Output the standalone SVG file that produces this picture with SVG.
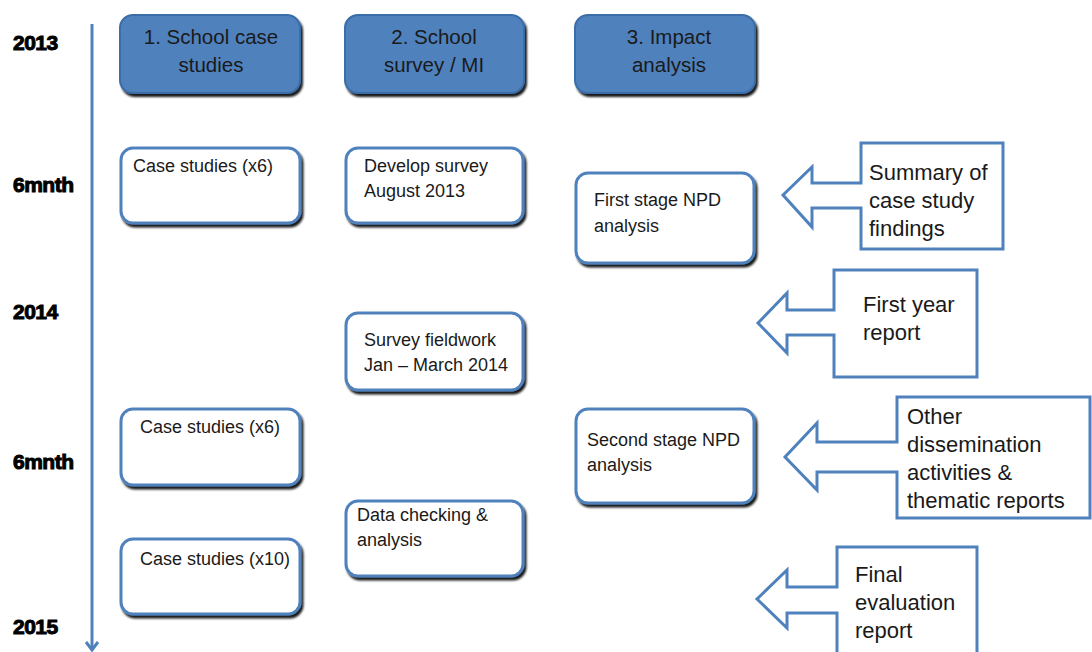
<svg xmlns="http://www.w3.org/2000/svg" width="1092" height="652" viewBox="0 0 1092 652">
<style>
  .hdr{fill:#4F81BD;stroke:#3B6DA8;stroke-width:2}
  .box{fill:#FFFFFF;stroke:#4F81BD;stroke-width:3}
  .call{fill:#FFFFFF;stroke:#4F81BD;stroke-width:3;stroke-linejoin:miter}
  .ht{font-family:"Liberation Sans",Arial,sans-serif;font-size:20.5px;fill:#1a1a1a;text-anchor:middle}
  .bt{font-family:"Liberation Sans",Arial,sans-serif;font-size:18px;fill:#1a1a1a}
  .ct{font-family:"Liberation Sans",Arial,sans-serif;font-size:22px;fill:#1a1a1a}
  .yr{font-family:"Liberation Sans",Arial,sans-serif;font-size:21px;font-weight:bold;fill:#000;stroke:#000;stroke-width:1;letter-spacing:-0.5px}
</style>
<defs>
  <filter id="sh" x="-10%" y="-10%" width="130%" height="130%">
    <feDropShadow dx="2" dy="3" stdDeviation="1.2" flood-color="#000" flood-opacity="0.9"/>
  </filter>
</defs>

<g id="timeline">
  <line x1="92" y1="24" x2="92" y2="650" stroke="#4F81BD" stroke-width="3"/>
  <path d="M86,642 L92,650 L98,642" fill="none" stroke="#4F81BD" stroke-width="3"/>
  <text class="yr" x="13" y="50">2013</text>
  <text class="yr" x="13" y="192">6mnth</text>
  <text class="yr" x="13" y="319">2014</text>
  <text class="yr" x="13" y="469">6mnth</text>
  <text class="yr" x="13" y="634">2015</text>
</g>

<g id="h1">
  <rect class="hdr" x="120" y="15" width="180" height="78" rx="13" filter="url(#sh)"/>
  <text class="ht" x="211" y="44">1. School case</text>
  <text class="ht" x="211" y="72">studies</text>
</g>
<g id="h2">
  <rect class="hdr" x="345" y="15" width="179" height="78" rx="13" filter="url(#sh)"/>
  <text class="ht" x="434" y="44">2. School</text>
  <text class="ht" x="434" y="72">survey / MI</text>
</g>
<g id="h3">
  <rect class="hdr" x="575" y="15" width="180" height="78" rx="13" filter="url(#sh)"/>
  <text class="ht" x="669" y="44">3. Impact</text>
  <text class="ht" x="669" y="72">analysis</text>
</g>

<g id="cs1">
  <rect class="box" x="121" y="148" width="179" height="75" rx="12" filter="url(#sh)"/>
  <text class="bt" x="133" y="172">Case studies (x6)</text>
</g>
<g id="dev">
  <rect class="box" x="346" y="148" width="177" height="75" rx="12" filter="url(#sh)"/>
  <text class="bt" x="364" y="172">Develop survey</text>
  <text class="bt" x="364" y="197">August 2013</text>
</g>
<g id="npd1">
  <rect class="box" x="576" y="173" width="178" height="90" rx="12" filter="url(#sh)"/>
  <text class="bt" x="594" y="206">First stage NPD</text>
  <text class="bt" x="594" y="232">analysis</text>
</g>
<g id="field">
  <rect class="box" x="346" y="313" width="177" height="77" rx="12" filter="url(#sh)"/>
  <text class="bt" x="364" y="346">Survey fieldwork</text>
  <text class="bt" x="364" y="371">Jan – March 2014</text>
</g>
<g id="cs2">
  <rect class="box" x="121" y="409" width="179" height="76" rx="12" filter="url(#sh)"/>
  <text class="bt" x="140" y="433">Case studies (x6)</text>
</g>
<g id="npd2">
  <rect class="box" x="576" y="409" width="178" height="94" rx="12" filter="url(#sh)"/>
  <text class="bt" x="587" y="446">Second stage NPD</text>
  <text class="bt" x="587" y="471">analysis</text>
</g>
<g id="data">
  <rect class="box" x="346" y="501" width="177" height="75" rx="12" filter="url(#sh)"/>
  <text class="bt" x="357" y="521">Data checking &amp;</text>
  <text class="bt" x="357" y="546">analysis</text>
</g>
<g id="cs3">
  <rect class="box" x="121" y="539" width="179" height="75" rx="12" filter="url(#sh)"/>
  <text class="bt" x="140" y="565">Case studies (x10)</text>
</g>

<g id="connectors">
  <g id="c1">
    <path class="call" d="M861,143 L1003,143 L1003,249 L861,249 L861,208 L812,208 L812,227 L783,195 L812,167 L812,183 L861,183 Z"/>
    <text class="ct" x="869" y="180">Summary of</text>
    <text class="ct" x="869" y="208">case study</text>
    <text class="ct" x="869" y="236">findings</text>
  </g>
  <g id="c2">
    <path class="call" d="M834,270 L977,270 L977,377 L834,377 L834,335 L787,335 L787,353 L758,323 L787,293 L787,310 L834,310 Z"/>
    <text class="ct" x="863" y="312">First year</text>
    <text class="ct" x="863" y="340">report</text>
  </g>
  <g id="c3">
    <path class="call" d="M897,397 L1090,397 L1090,518 L897,518 L897,472 L817,472 L817,490 L785,457 L817,423 L817,442 L897,442 Z"/>
    <text class="ct" x="907" y="424">Other</text>
    <text class="ct" x="907" y="452">dissemination</text>
    <text class="ct" x="907" y="480">activities &amp;</text>
    <text class="ct" x="907" y="508">thematic reports</text>
  </g>
  <g id="c4">
    <path class="call" d="M837,547 L977,547 L977,660 L837,660 L837,613 L787,613 L787,628 L757,599 L787,570 L787,587 L837,587 Z"/>
    <text class="ct" x="855" y="582">Final</text>
    <text class="ct" x="855" y="610">evaluation</text>
    <text class="ct" x="855" y="638">report</text>
  </g>
</g>
</svg>
